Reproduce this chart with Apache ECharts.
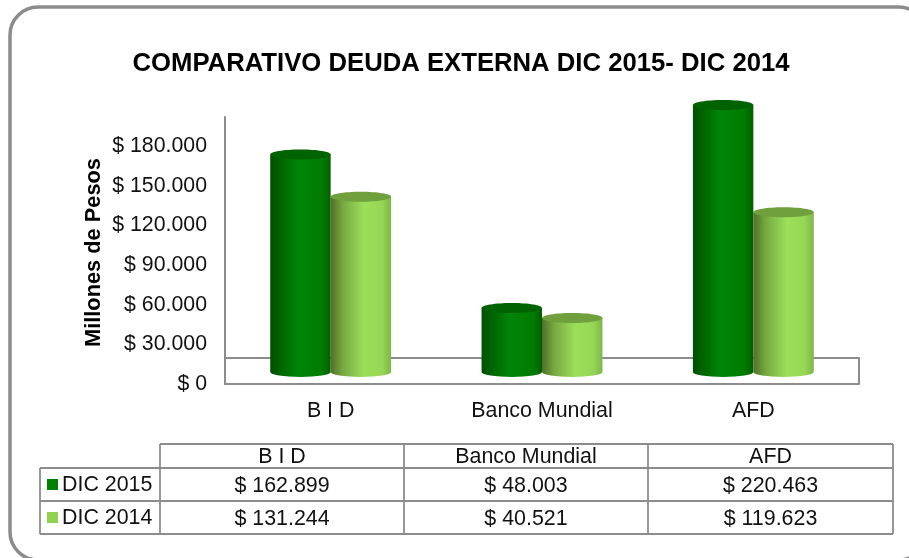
<!DOCTYPE html>
<html><head><meta charset="utf-8">
<style>html,body{margin:0;padding:0;background:#fff}#c{width:909px;height:558px}</style>
<script src="https://cdn.jsdelivr.net/npm/echarts@6/dist/echarts.min.js"></script>
</head><body><div id="c"></div>
<script>
const categories = ['B I D', 'Banco Mundial', 'AFD'];
const dic2015 = [162899, 48003, 220463];
const dic2014 = [131244, 40521, 119623];
const seriesNames = ['DIC 2015', 'DIC 2014'];
const tableCols2015 = ['$ 162.899', '$ 48.003', '$ 220.463'];
const tableCols2014 = ['$ 131.244', '$ 40.521', '$ 119.623'];

const FONT = '"Liberation Sans", Arial, sans-serif';
const GRAY = '#8c8c8c';
const chart = echarts.init(document.getElementById('c'));

function cyl(offsetSign, side, cap) {
  return function (params, api) {
    const axisMax = 200000;
    const v = Math.min(api.value(1), axisMax);
    const top = api.coord([api.value(0), v]);
    const base = api.coord([api.value(0), 0]);
    const w = api.size([1, 0])[0] * 0.286;
    const x = offsetSign > 0 ? top[0] : top[0] - w;
    const ry = 5;
    const grad = new echarts.graphic.LinearGradient(0, 0, 1, 0, side);
    return {
      type: 'group',
      children: [
        { type: 'path', shape: {
            pathData: 'M0 0 L0 ' + (base[1]-top[1]) + ' A' + (w/2) + ' ' + ry + ' 0 0 0 ' + w + ' ' + (base[1]-top[1]) + ' L' + w + ' 0 Z',
            x: x, y: top[1], width: w, height: base[1]-top[1]+ry, layout: 'center' },
          style: { fill: grad } },
        { type: 'ellipse', shape: { cx: x + w/2, cy: top[1], rx: w/2, ry: ry }, style: { fill: cap } }
      ]
    };
  };
}

const side15 = [{offset:0,color:'#004f00'},{offset:0.2,color:'#006800'},{offset:0.45,color:'#008409'},{offset:0.85,color:'#007c00'},{offset:1,color:'#005f00'}];
const side14 = [{offset:0,color:'#507028'},{offset:0.2,color:'#76a840'},{offset:0.55,color:'#9cdf5a'},{offset:0.85,color:'#96d655'},{offset:1,color:'#7fb64a'}];

// table
const tX = [40, 160, 404, 648, 893];
const tY = [444, 468, 501, 534];
const line = (x1,y1,x2,y2) => ({ type:'line', shape:{x1,y1,x2,y2}, style:{stroke:GRAY, lineWidth:1.8}, silent:true });
const txt = (x,y,t,align) => ({ type:'text', x, y, style:{ text:t, fill:'#111', font:'21.4px '+FONT, textAlign:align||'center', textVerticalAlign:'middle' }, silent:true });
const tableEls = [];
tableEls.push(line(160,tY[0],893,tY[0]));
tableEls.push(line(40,tY[1],893,tY[1]));
tableEls.push(line(40,tY[2],893,tY[2]));
tableEls.push(line(40,tY[3],893,tY[3]));
tableEls.push(line(40,tY[1],40,tY[3]));
for (let i=1;i<5;i++) tableEls.push(line(tX[i],tY[0],tX[i],tY[3]));
categories.forEach((c,i)=>{
  const cx=(tX[i+1]+tX[i+2])/2;
  tableEls.push(txt(cx,(tY[0]+tY[1])/2+1,c));
  tableEls.push(txt(cx,(tY[1]+tY[2])/2+2,tableCols2015[i]));
  tableEls.push(txt(cx,(tY[2]+tY[3])/2+2,tableCols2014[i]));
});
[['#008000',tY[1]],['#92d050',tY[2]]].forEach(([col,y],i)=>{
  tableEls.push({type:'rect',shape:{x:47,y:y+11,width:11,height:11},style:{fill:col},silent:true});
  tableEls.push(txt(62,y+17,seriesNames[i],'left'));
});

chart.setOption({
  animation:false,
  backgroundColor:'#fff',
  title:{ text:'COMPARATIVO DEUDA EXTERNA DIC 2015- DIC 2014', left:456, top:46, textAlign:'center',
    textStyle:{ fontFamily:FONT, fontWeight:'bold', fontSize:25.7, color:'#000' } },
  grid:[
    { left:225, width:634, top:117, height:267 },
    { left:225, width:634, top:105, height:267 }
  ],
  xAxis:[
    { type:'category', gridIndex:0, data:categories, axisTick:{show:false},
      axisLine:{lineStyle:{color:GRAY,width:2}},
      axisLabel:{fontFamily:FONT,fontSize:21.4,color:'#111',margin:17} },
    { type:'category', gridIndex:1, data:categories, show:false }
  ],
  yAxis:[
    { type:'value', gridIndex:0, min:0, max:202000, interval:30000, name:'Millones de Pesos',
      nameLocation:'middle', nameGap:120, nameRotate:90, nameMoveOverlap:false,
      nameTextStyle:{fontFamily:FONT,fontWeight:'bold',fontSize:21.8,color:'#000',padding:[0,4,0,0]},
      axisLine:{show:true,lineStyle:{color:GRAY,width:2}}, axisTick:{show:false}, splitLine:{show:false},
      axisLabel:{showMaxLabel:false,fontFamily:FONT,fontSize:21.3,color:'#111',margin:18,
        formatter:v=>'$ '+(v===0?'0':(v/1000).toFixed(0)+'.000')} },
    { type:'value', gridIndex:1, min:0, max:200000, show:false, splitLine:{show:false} }
  ],
  series:[
    { type:'custom', name:seriesNames[0], xAxisIndex:1, yAxisIndex:1, clip:false, z:3,
      renderItem:cyl(-1,side15,'#006200'), data:dic2015.map((v,i)=>[i,v]) },
    { type:'custom', name:seriesNames[1], xAxisIndex:1, yAxisIndex:1, clip:false, z:3,
      renderItem:cyl(1,side14,'#70a03e'), data:dic2014.map((v,i)=>[i,v]) }
  ],
  graphic:[
    { type:'rect', shape:{x:10,y:7,width:917,height:553,r:28}, style:{fill:'none',stroke:GRAY,lineWidth:3.5}, silent:true, z:0 },
    { type:'polyline', shape:{points:[[225,358],[859,358],[859,384]]}, style:{stroke:GRAY,fill:'none',lineWidth:2}, silent:true, z:1 },
    { type:'group', children:tableEls, z:2 }
  ]
});
</script></body></html>
